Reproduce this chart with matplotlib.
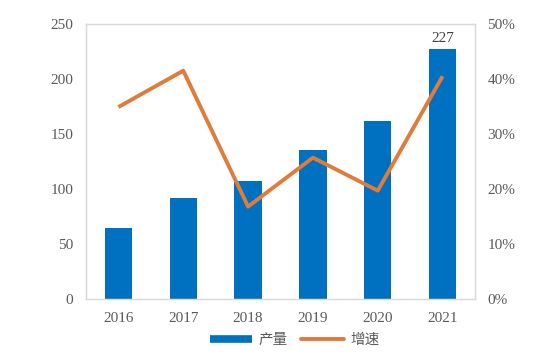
import matplotlib
matplotlib.use("Agg")
import matplotlib.pyplot as plt
from matplotlib.ticker import FuncFormatter
from matplotlib.lines import Line2D

years = ["2016", "2017", "2018", "2019", "2020", "2021"]
output = [65, 92, 107, 135, 162, 227]
growth = [34.9, 41.5, 16.8, 25.7, 19.7, 40.5]

BLUE = "#0070C0"
ORANGE = "#E07B39"
GRAY = "#595959"

fig = plt.figure(figsize=(5.53, 3.6), dpi=100)
ax = fig.add_axes([0.1555, 0.1694, 0.7035, 0.764])
x = range(len(years))
ax.bar(x, output, width=0.42, color=BLUE, zorder=2)
ax.set_ylim(0, 250)
ax.set_xlim(-0.5, len(years) - 0.5)
ax.set_yticks(range(0, 251, 50))
ax.set_xticks(list(x))
ax.set_xticklabels(years)
ax.text(x[-1], output[-1] + 4, str(output[-1]), ha="center", va="bottom",
        family="Liberation Serif", fontsize=11, color="#404040")

ax2 = ax.twinx()
ax2.plot(x, growth, color=ORANGE, lw=2.8, solid_capstyle="butt", zorder=3)
ax2.set_ylim(0, 50)
ax2.set_yticks(range(0, 51, 10))
ax2.yaxis.set_major_formatter(FuncFormatter(lambda v, p: f"{v:.0f}%"))

for a in (ax, ax2):
    for s in a.spines.values():
        s.set_color("#D9D9D9")
        s.set_linewidth(0.9)
    a.tick_params(length=0, labelsize=11, colors=GRAY, pad=9)
    for lab in a.get_xticklabels() + a.get_yticklabels():
        lab.set_family("Liberation Serif")

handles = [Line2D([0], [0], color=BLUE, lw=5.5, solid_capstyle="butt"),
           Line2D([0], [0], color=ORANGE, lw=2.8, solid_capstyle="round")]
fig.legend(handles, ["产量", "增速"], loc="center", bbox_to_anchor=(0.533, 0.055),
           ncol=2, frameon=False, handlelength=2.9, columnspacing=0.9, handletextpad=0.45,
           prop={"family": ["Noto Sans CJK SC", "DejaVu Sans"], "size": 10.5},
           labelcolor=GRAY)

fig.savefig("out.png", dpi=100)
